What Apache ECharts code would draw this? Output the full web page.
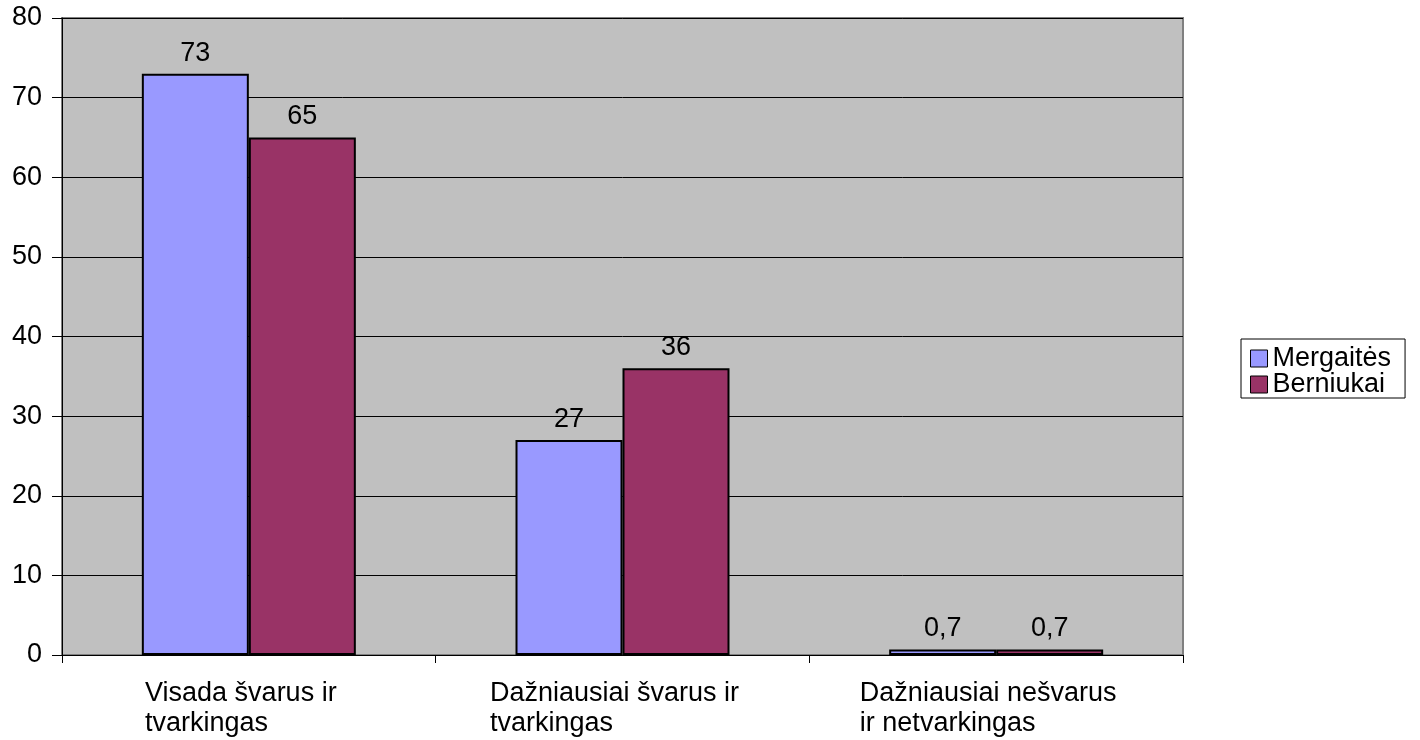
<!DOCTYPE html>
<html>
<head>
<meta charset="utf-8">
<script src="https://cdn.jsdelivr.net/npm/echarts@6/dist/echarts.min.js"></script>
<style>
html,body{margin:0;padding:0;background:#fff;}
#chart{width:1420px;height:740px;}
</style>
</head>
<body>
<div id="chart"></div>
<script>
const categories = [
  ["Visada švarus ir", "tvarkingas"],
  ["Dažniausiai švarus ir", "tvarkingas"],
  ["Dažniausiai nešvarus", "ir netvarkingas"]
];
const seriesNames = ["Mergaitės", "Berniukai"];
const mergaites = [73, 27, 0.7];
const berniukai = [65, 36, 0.7];
const yTicks = { min: 0, max: 80, interval: 10 };
const colors = ["#9999FF", "#993366"];

const FONT = "Liberation Sans, Arial, sans-serif";
const chart = echarts.init(document.getElementById('chart'), null, { renderer: 'canvas' });

const labelFmt = p => String(p.value).replace('.', ',');

chart.setOption({
  animation: false,
  backgroundColor: '#ffffff',
  textStyle: { fontFamily: FONT },
  grid: {
    left: 62, right: 237, top: 18, bottom: 85,
    show: true, backgroundColor: '#C0C0C0', borderColor: '#808080', borderWidth: 2
  },
  legend: {
    orient: 'vertical',
    left: 1241, top: 339,
    data: seriesNames,
    icon: 'rect',
    itemWidth: 17, itemHeight: 17,
    itemGap: -1,
    itemTextGap: 8,
    itemStyle: { borderColor: '#000', borderWidth: 1 },
    padding: [6, 14, 0, 9],
    borderColor: '#000', borderWidth: 1,
    backgroundColor: '#fff',
    textStyle: { fontFamily: FONT, fontSize: 27, color: '#000' }
  },
  xAxis: {
    type: 'category',
    data: categories.map(c => c.join('\n')),
    axisLine: { show: true, lineStyle: { color: '#000', width: 1 } },
    axisTick: { show: true, length: 8, lineStyle: { color: '#000' } },
    axisLabel: {
      margin: 24,
      color: '#000',
      fontFamily: FONT,
      fontSize: 27,
      lineHeight: 30,
      interval: 0,
      formatter: v => v.split('\n').map(l => '{a|' + l + '}').join('\n'),
      rich: { a: { align: 'left', fontFamily: FONT, fontSize: 27, lineHeight: 30, color: '#000', padding: [0, 16, 0, 0] } }
    },
    splitLine: { show: false }
  },
  yAxis: {
    type: 'value',
    min: yTicks.min, max: yTicks.max, interval: yTicks.interval,
    axisLine: { show: true, lineStyle: { color: '#000', width: 1 } },
    axisTick: { show: true, length: 10, lineStyle: { color: '#000' } },
    axisLabel: { margin: 20, color: '#000', fontFamily: FONT, fontSize: 27 },
    splitLine: { show: true, lineStyle: { color: '#000', width: 1 } }
  },
  series: [
    {
      name: seriesNames[0], type: 'bar', data: mergaites,
      barWidth: 107, barGap: '0%',
      itemStyle: { color: colors[0], borderColor: '#000', borderWidth: 2 },
      label: { show: true, position: 'top', distance: 7, color: '#000', fontFamily: FONT, fontSize: 27, formatter: labelFmt }
    },
    {
      name: seriesNames[1], type: 'bar', data: berniukai,
      barWidth: 107, barGap: '0%',
      itemStyle: { color: colors[1], borderColor: '#000', borderWidth: 2 },
      label: { show: true, position: 'top', distance: 7, color: '#000', fontFamily: FONT, fontSize: 27, formatter: labelFmt }
    }
  ]
});
</script>
</body>
</html>
